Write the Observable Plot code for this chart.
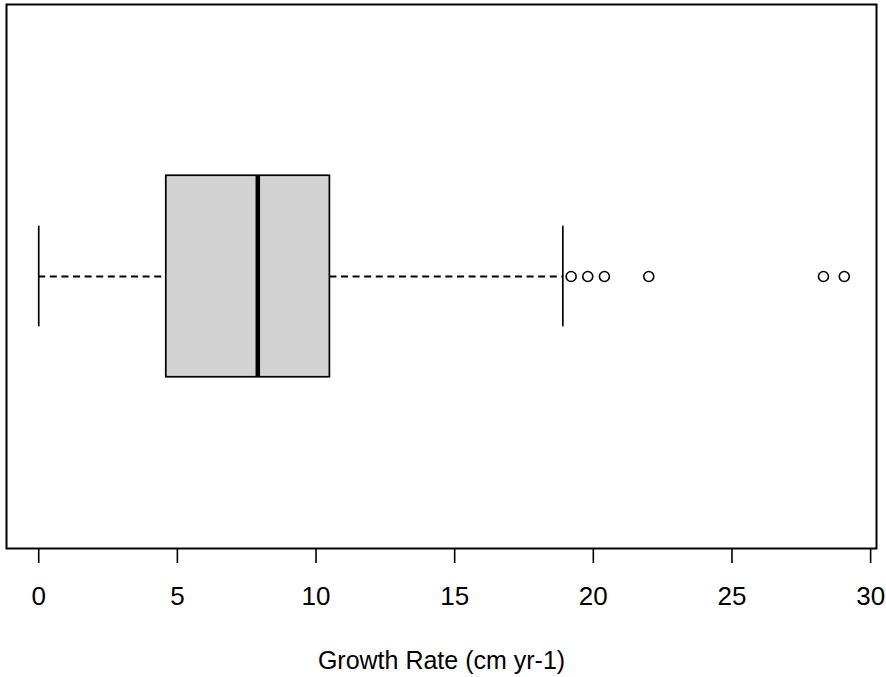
<!DOCTYPE html>
<html>
<head>
<meta charset="utf-8">
<script src="https://cdn.jsdelivr.net/npm/d3@7"></script>
<script src="https://cdn.jsdelivr.net/npm/@observablehq/plot@0.6"></script>
<style>
  html, body { margin: 0; padding: 0; background: #fff; }
  #chart svg { display: block; }
</style>
</head>
<body>
<div id="chart"></div>
<script>
// Box-plot summary values
const groups = ["Growth Rate"];
const whiskerLow = [0];
const quartile1 = [4.6];
const medians = [7.9];
const quartile3 = [10.5];
const whiskerHigh = [18.9];
const outliers = [19.2, 19.8, 20.4, 22.0, 28.3, 29.05];
const xTicks = [0, 5, 10, 15, 20, 25, 30];
const xLabel = "Growth Rate (cm yr-1)";

const rows = groups.map((g, i) => ({
  group: g, pos: i + 1,
  lo: whiskerLow[i], q1: quartile1[i], med: medians[i], q3: quartile3[i], hi: whiskerHigh[i]
}));
const outlierRows = outliers.map(v => ({value: v, pos: 1}));

// R-style 4% axis extension
const dataMin = d3.min([...whiskerLow, ...outliers]);
const dataMax = d3.max([...whiskerHigh, ...outliers]);
const ext = (dataMax - dataMin) * 0.04;

const font = "'Liberation Sans', Arial, sans-serif";
const boxHalf = 0.2, stapleHalf = 0.1;

const chart = Plot.plot({
  width: 886,
  height: 677,
  marginLeft: 6,
  marginRight: 10,
  marginTop: 4,
  marginBottom: 129,
  style: {fontFamily: font, color: "#000", background: "#fff"},
  x: {domain: [dataMin - ext, dataMax + ext]},
  y: {domain: [0.46, 1.54], axis: null},
  marks: [
    // whiskers (dashed)
    Plot.ruleY(rows, {y: "pos", x1: "lo", x2: "q1", stroke: "#000", strokeWidth: 1.9, strokeDasharray: "7,4.6"}),
    Plot.ruleY(rows, {y: "pos", x1: "q3", x2: "hi", stroke: "#000", strokeWidth: 1.9, strokeDasharray: "7,4.6"}),
    // staples
    Plot.ruleX(rows, {x: "lo", y1: d => d.pos - stapleHalf, y2: d => d.pos + stapleHalf, stroke: "#000", strokeWidth: 1.7}),
    Plot.ruleX(rows, {x: "hi", y1: d => d.pos - stapleHalf, y2: d => d.pos + stapleHalf, stroke: "#000", strokeWidth: 1.7}),
    // box
    Plot.rect(rows, {x1: "q1", x2: "q3", y1: d => d.pos - boxHalf, y2: d => d.pos + boxHalf, fill: "#d3d3d3", stroke: "#000", strokeWidth: 1.7}),
    // median
    Plot.ruleX(rows, {x: "med", y1: d => d.pos - boxHalf, y2: d => d.pos + boxHalf, stroke: "#000", strokeWidth: 4.5}),
    // outliers
    Plot.dot(outlierRows, {x: "value", y: "pos", r: 5, stroke: "#000", strokeWidth: 1.6, fill: "#fff"}),
    // frame
    Plot.frame({stroke: "#000", strokeWidth: 2}),
    // axis
    Plot.axisX({ticks: xTicks, tickSize: 15, tickPadding: 23, tickFormat: d => String(d), fontSize: 26, stroke: "#000", strokeWidth: 1.6, label: null}),
    Plot.text([xLabel], {text: d => d, frameAnchor: "bottom", dy: 112, fontSize: 25, fill: "#000", lineAnchor: "middle"})
  ]
});
document.getElementById("chart").appendChild(chart);
</script>
</body>
</html>
